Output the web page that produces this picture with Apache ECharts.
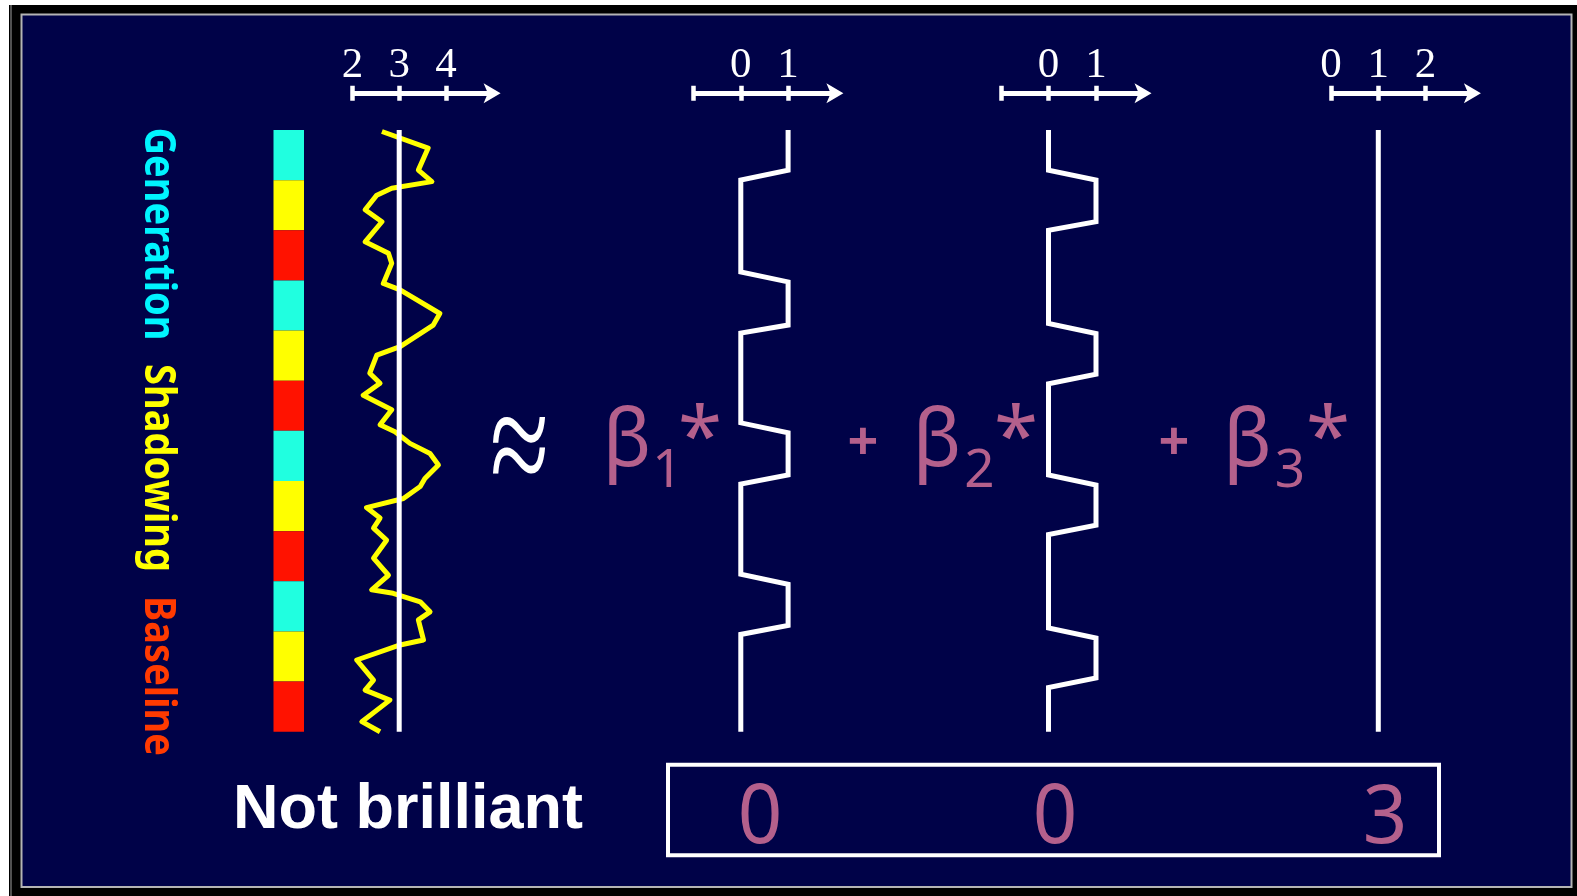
<!DOCTYPE html>
<html>
<head>
<meta charset="utf-8">
<script src="https://cdn.jsdelivr.net/npm/echarts@6/dist/echarts.min.js"></script>
<style>
  html, body { margin: 0; padding: 0; background: #fff; }
  #chart { width: 1577px; height: 896px; }
</style>
</head>
<body>
<div id="chart"></div>
<script>
// ---- Design: 12 blocks of 10 scans each ----
const scanMax = 120;
const blockConditions = [
  'Generation', 'Shadowing', 'Baseline',
  'Generation', 'Shadowing', 'Baseline',
  'Generation', 'Shadowing', 'Baseline',
  'Generation', 'Shadowing', 'Baseline'
];

// ---- Measured voxel signal (scan index, signal value) ----
const signalScan = [0.3, 3.6, 8.0, 10.3, 11.6, 13.0, 15.9, 18.3, 22.3, 24.6,
  26.6, 30.6, 31.9, 36.6, 38.9, 43.2, 44.9, 48.5, 50.5, 52.9,
  55.8, 58.8, 60.2, 62.5, 64.5, 66.8, 69.5, 71.1, 73.5, 75.3,
  77.4, 79.4, 81.8, 85.4, 88.8, 91.7, 92.4, 94.1, 96.1, 97.7,
  101.7, 102.7, 105.7, 109.7, 111.7, 113.7, 118.0, 120.0];
const signalValue = [2.63, 3.62, 3.41, 3.70, 2.84, 2.52, 2.27, 2.63, 2.27, 2.77,
  2.84, 2.66, 3.02, 3.87, 3.73, 3.02, 2.52, 2.37, 2.59, 2.23,
  2.84, 2.59, 2.91, 3.23, 3.66, 3.84, 3.55, 3.45, 3.09, 2.30,
  2.59, 2.45, 2.73, 2.45, 2.77, 2.41, 2.87, 3.45, 3.66, 3.41,
  3.52, 3.02, 2.09, 2.45, 2.27, 2.80, 2.20, 2.59];
const signalMean = 3;

// ---- Regressors ----
const generationScan  = [0, 8, 10, 28.3, 30.3, 38.9, 40.5, 58.4, 60.4, 68.8, 70.6, 88.6, 90.6, 98.8, 100.6, 120];
const generationValue = [1, 1, 0, 0, 1, 1, 0, 0, 1, 1, 0, 0, 1, 1, 0, 0];
const shadowingScan  = [0, 8, 10, 18.3, 20, 38.6, 40.6, 48.7, 50.6, 68.8, 70.8, 78.8, 80.7, 99.3, 101.3, 109.3, 111.2, 120];
const shadowingValue = [0, 0, 1, 1, 0, 0, 1, 1, 0, 0, 1, 1, 0, 0, 1, 1, 0, 0];
const constantValue = 1;

// ---- Axis ticks and labels ----
const signalTicks = [2, 3, 4];
const regressorTicks = [-1, 0, 1];
const regressorLabels = [0, 1];
const constantTicks = [0, 1, 2];

// ---- Fitted parameters ----
const betaNames = ['β', 'β', 'β'];
const betaSubscripts = ['1', '2', '3'];
const betaEstimates = [0, 0, 3];
const fitVerdict = 'Not brilliant';

const NAVY = '#000248';
const PINK = '#B4608C';
const WHITE = '#ffffff';
const conditionColors = { Generation: '#20FFE0', Shadowing: '#FFFF00', Baseline: '#FF1200' };
const conditionTextColors = { Generation: '#00F4FF', Shadowing: '#FFFF00', Baseline: '#FF3A00' };

const zip = (xs, ys) => xs.map((x, i) => [ys[i], x]);

const GRID_TOP = 130;
const GRID_H = 601.7;
const AXIS_OFFSET = 36.7;

const grids = [
  { left: 273.5, top: GRID_TOP, width: 30.5, height: GRID_H },   // colour bar
  { left: 352.5, top: GRID_TOP, width: 140.1, height: GRID_H },  // signal
  { left: 693.5, top: GRID_TOP, width: 141.9, height: GRID_H },  // regressor 1
  { left: 1001,  top: GRID_TOP, width: 142.5, height: GRID_H },  // regressor 2
  { left: 1331,  top: GRID_TOP, width: 141.9, height: GRID_H }   // constant
];

const tickStyle = { color: WHITE, width: 4.5 };

function topAxes(gridIndex, min, max, ticks, labels) {
  return [
    {
      type: 'value', gridIndex, position: 'top', offset: AXIS_OFFSET, min, max,
      splitLine: { show: false },
      axisLine: { show: true, onZero: false, symbol: ['none', 'arrow'], symbolSize: [15, 17],
                  symbolOffset: [0, 8], lineStyle: { color: WHITE, width: 5, cap: 'butt' } },
      axisTick: { show: true, customValues: ticks, length: 7.5, inside: false, lineStyle: tickStyle },
      axisLabel: { show: true, customValues: labels, margin: 6, color: WHITE,
                   fontFamily: '"Liberation Serif", "Times New Roman", serif', fontSize: 43 }
    },
    {
      type: 'value', gridIndex, position: 'top', offset: AXIS_OFFSET, min, max,
      splitLine: { show: false },
      axisLine: { show: false, onZero: false },
      axisTick: { show: true, customValues: ticks, length: 7.5, inside: true, lineStyle: tickStyle },
      axisLabel: { show: false }
    }
  ];
}

const xAxes = [
  { type: 'value', gridIndex: 0, min: 0, max: 1, show: false },
  ...topAxes(1, 2, 5, signalTicks, signalTicks),
  ...topAxes(2, -1, 2, regressorTicks, regressorLabels),
  ...topAxes(3, -1, 2, regressorTicks, regressorLabels),
  ...topAxes(4, 0, 3, constantTicks, constantTicks)
];

const yAxes = [
  { type: 'category', gridIndex: 0, inverse: true, show: false,
    data: blockConditions.map((c, i) => c + ' ' + (i + 1)) },
  ...[1, 2, 3, 4].map(g => ({ type: 'value', gridIndex: g, min: 0, max: scanMax, inverse: true, show: false }))
];

const waveLine = (xi, yi, data, color, join) => ({
  type: 'line', xAxisIndex: xi, yAxisIndex: yi, data, showSymbol: false, clip: false,
  silent: true, lineStyle: { color, width: 5, join: join || 'miter', cap: 'butt' }
});

const series = [
  {
    type: 'bar', xAxisIndex: 0, yAxisIndex: 0, barWidth: '100%', barCategoryGap: '0%', silent: true,
    data: blockConditions.map(c => ({ value: 1, itemStyle: { color: conditionColors[c] } }))
  },
  waveLine(1, 1, zip(signalScan, signalValue), '#FFFF00', 'round'),
  waveLine(1, 1, [[signalMean, 0], [signalMean, scanMax]], WHITE),
  waveLine(3, 2, zip(generationScan, generationValue), WHITE),
  waveLine(5, 3, zip(shadowingScan, shadowingValue), WHITE),
  waveLine(7, 4, [[constantValue, 0], [constantValue, scanMax]], WHITE)
];

// ---- Text and frame ----
const txt = (x, y, text, font, fill, extra) => Object.assign({
  type: 'text', x, y, silent: true,
  style: { text, font, fill, align: 'center', verticalAlign: 'middle' }
}, extra || {});

const SANS = '"Noto Sans", "DejaVu Sans", sans-serif';
const conditionLabelPos = { Generation: 234, Shadowing: 468, Baseline: 676 };
const conditionOrder = ['Generation', 'Shadowing', 'Baseline'];

const betaPos = [
  { plus: null, b: 627, s: 667.5, star: 700 },
  { plus: 863, b: 937, s: 979.5, star: 1016 },
  { plus: 1174, b: 1247.5, s: 1290, star: 1328 }
];
const estimatePos = [760, 1055, 1385];

const graphic = [
  // outer frame
  { type: 'rect', silent: true, shape: { x: 9, y: 5, width: 13, height: 891 }, style: { fill: '#000' } },
  { type: 'rect', silent: true, shape: { x: 9, y: 5, width: 1568, height: 10 }, style: { fill: '#000' } },
  { type: 'rect', silent: true, shape: { x: 1571, y: 5, width: 6, height: 891 }, style: { fill: '#000' } },
  { type: 'rect', silent: true, shape: { x: 9, y: 887, width: 1568, height: 9 }, style: { fill: '#000' } },
  { type: 'rect', silent: true, shape: { x: 0, y: 0, width: 9, height: 896 }, style: { fill: '#fff' } },
  { type: 'rect', silent: true, shape: { x: 0, y: 0, width: 1577, height: 5 }, style: { fill: '#fff' } },
  { type: 'line', silent: true, shape: { x1: 11, y1: 5, x2: 11, y2: 896 }, style: { stroke: '#505050', lineWidth: 2 } },
  { type: 'rect', silent: true, shape: { x: 21.5, y: 14.5, width: 1550, height: 872.5 },
    style: { fill: 'none', stroke: '#B4B4B4', lineWidth: 2 } },

  // condition names, written downward
  ...conditionOrder.map(c => txt(157, conditionLabelPos[c], c, 'bold 38px ' + SANS,
    conditionTextColors[c], { rotation: -Math.PI / 2, scaleY: 1.15 })),

  // approximation sign
  txt(519.5, 456, '≈', '96px "Liberation Serif", serif', WHITE, { scaleX: 1.12, scaleY: 1.6 }),

  // model terms
  ...betaPos.flatMap((p, i) => [
    ...(p.plus ? [txt(p.plus, 445, '+', 'bold 54px ' + SANS, PINK)] : []),
    txt(p.b, 443, betaNames[i], '80px ' + SANS, PINK),
    txt(p.s, 472, betaSubscripts[i], '53px ' + SANS, PINK),
    txt(p.star, 441, '*', '80px ' + SANS, PINK)
  ]),

  // verdict and estimates
  txt(408, 811, fitVerdict, 'bold 63px "Liberation Sans", Arial, sans-serif', WHITE),
  { type: 'rect', silent: true, shape: { x: 668, y: 764.7, width: 771, height: 90.6 },
    style: { fill: 'none', stroke: WHITE, lineWidth: 4 } },
  ...betaEstimates.map((v, i) => txt(estimatePos[i], 820, String(v), '82px ' + SANS, PINK,
    { scaleX: 0.95 }))
];

const chart = echarts.init(document.getElementById('chart'), null, { renderer: 'canvas' });
chart.setOption({
  animation: false,
  backgroundColor: NAVY,
  grid: grids,
  xAxis: xAxes,
  yAxis: yAxes,
  series,
  graphic
});
</script>
</body>
</html>
